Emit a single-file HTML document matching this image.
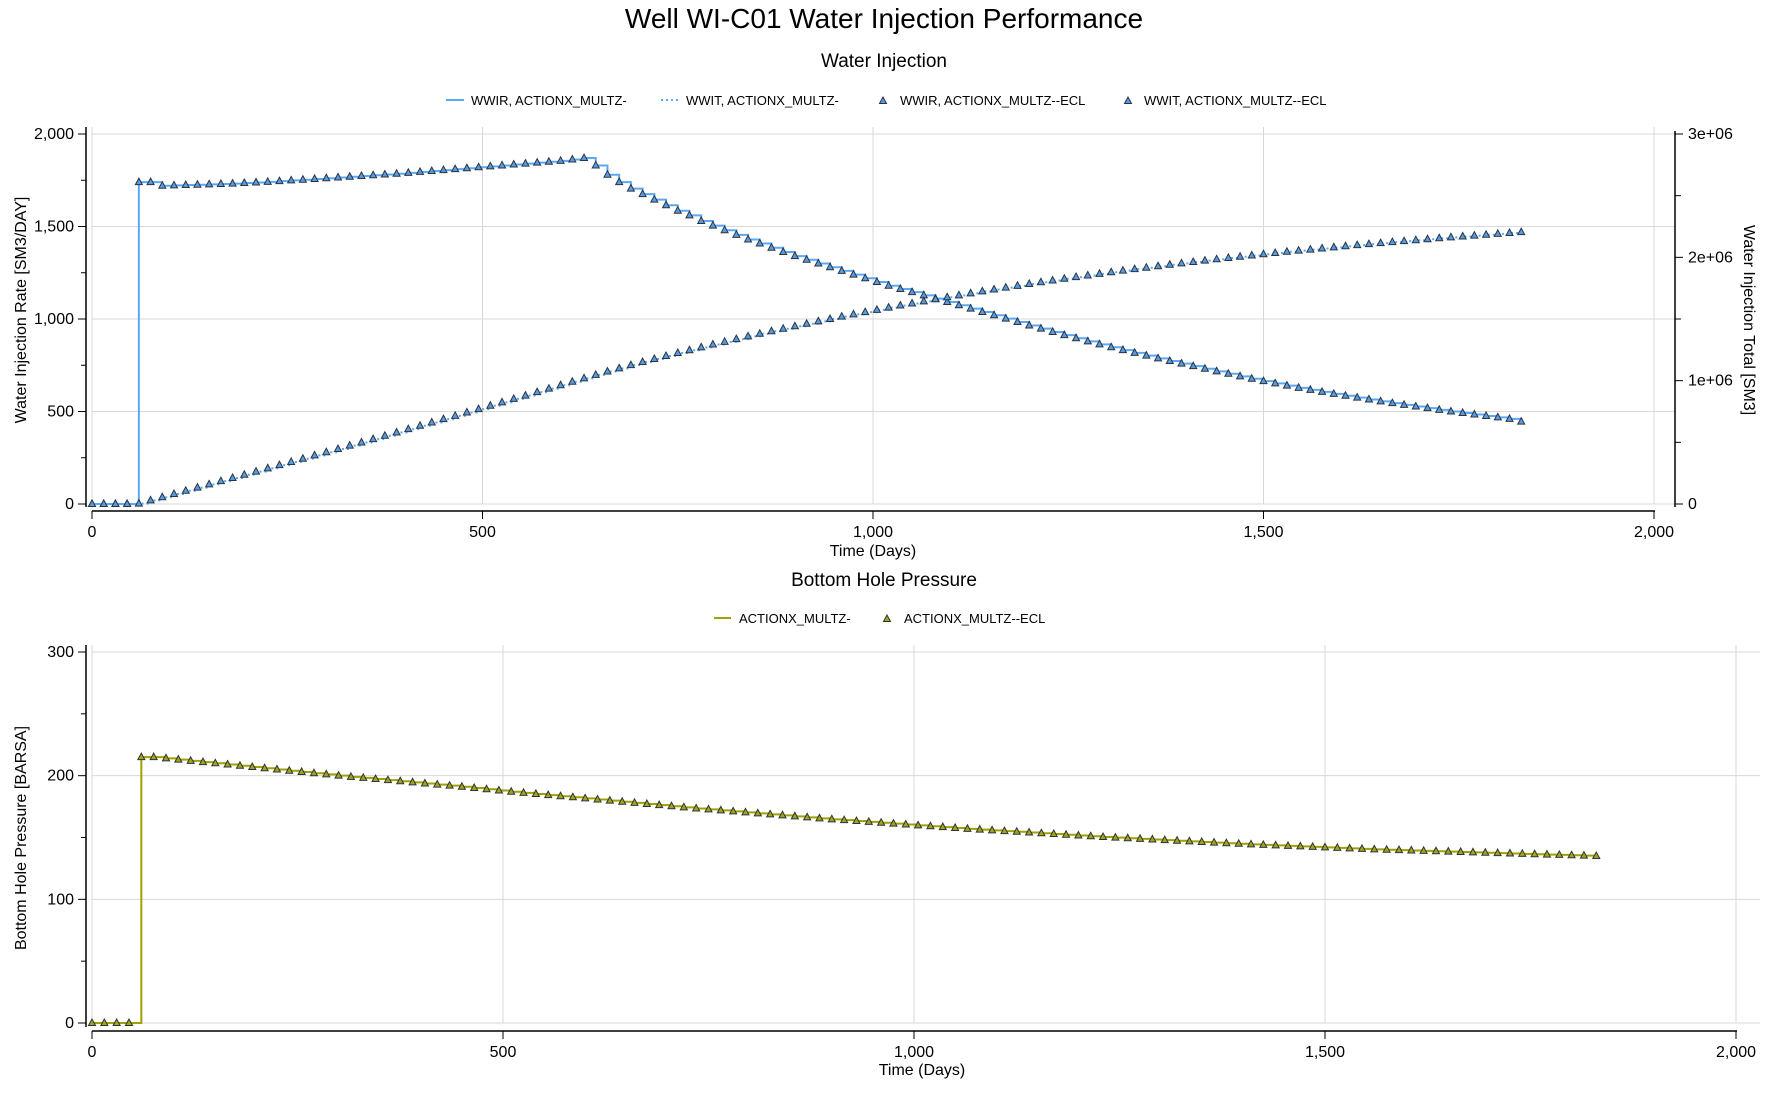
<!DOCTYPE html>
<html><head><meta charset="utf-8"><style>
body{margin:0;background:#fff;}
svg{display:block;font-family:"Liberation Sans","DejaVu Sans",sans-serif;}
</style></head><body>
<svg id="c" width="1788" height="1107" viewBox="0 0 1788 1107">
<text x="884" y="28" font-size="28" text-anchor="middle">Well WI-C01 Water Injection Performance</text>
<text x="884" y="67" font-size="19" text-anchor="middle">Water Injection</text>
<text x="884" y="586" font-size="19" text-anchor="middle">Bottom Hole Pressure</text>
<g id="g"></g>
</svg>
<script>
const days=[];for(let i=0;i<=122;i++)days.push(i*15);
const wwir=[0,0,0,0,1740,1740,1720,1722,1724,1726,1728,1730,1732,1735,1738,1741,1745,1749,1753,1757,1761,1765,1769,1773,1777,1781,1785,1790,1795,1800,1805,1810,1815,1820,1825,1830,1835,1840,1845,1850,1855,1862,1870,1830,1780,1740,1705,1675,1645,1615,1585,1560,1530,1505,1480,1455,1430,1408,1385,1362,1340,1320,1300,1280,1260,1240,1220,1200,1180,1162,1145,1128,1110,1092,1074,1056,1038,1020,1002,984,965,948,930,913,896,879,863,847,832,817,802,787,773,759,745,731,717,704,690,677,664,652,640,628,617,606,595,585,575,565,555,545,536,527,518,509,500,492,484,476,468,460,445];
const wwit=[0,0,0,0,3000,29000,55000,81000,107000,133000,159000,185000,211000,237000,263000,289000,315000,341000,367000,394000,420000,446000,473000,499000,526000,553000,580000,607000,634000,661000,688000,715000,742000,769000,797000,824000,852000,879000,907000,935000,963000,991000,1019000,1047000,1074000,1100000,1126000,1151000,1176000,1200000,1224000,1247000,1270000,1293000,1315000,1337000,1359000,1380000,1401000,1421000,1441000,1461000,1481000,1500000,1519000,1538000,1556000,1574000,1592000,1609000,1626000,1643000,1660000,1676000,1692000,1708000,1724000,1739000,1754000,1769000,1784000,1798000,1812000,1826000,1840000,1853000,1866000,1879000,1892000,1904000,1916000,1928000,1940000,1951000,1962000,1973000,1984000,1995000,2005000,2015000,2025000,2035000,2045000,2054000,2063000,2072000,2081000,2090000,2099000,2107000,2115000,2123000,2131000,2139000,2147000,2155000,2162000,2169000,2176000,2183000,2190000,2197000,2204000];
const bhp=[0,0,0,0,215,215,214,213,212,211,210,209,208,207,206,205,204,203,202,201,200,199,198.2,197.3,196.4,195.5,194.6,193.7,192.8,191.9,191,190,189,188,187,186.1,185.2,184.3,183.4,182.5,181.6,180.7,179.8,178.9,178,177.1,176.2,175.3,174.4,173.5,172.7,171.9,171.1,170.3,169.5,168.7,167.9,167.1,166.3,165.5,164.7,164,163.3,162.6,161.9,161.2,160.5,159.8,159.1,158.4,157.7,157,156.4,155.8,155.2,154.6,154,153.4,152.8,152.2,151.6,151,150.4,149.9,149.4,148.9,148.4,147.9,147.4,146.9,146.4,145.9,145.4,144.9,144.4,144,143.6,143.2,142.8,142.4,142,141.6,141.2,140.8,140.4,140.1,139.8,139.5,139.2,138.9,138.6,138.3,138,137.7,137.4,137.1,136.8,136.5,136.2,135.9,135.6,135.3,135];
const xTicks=[0,500,1000,1500,2000];
const xTickLabels=["0","500","1,000","1,500","2,000"];
const rateTicks=[0,500,1000,1500,2000];
const rateTickLabels=["0","500","1,000","1,500","2,000"];
const totTicks=[0,1000000,2000000,3000000];
const totTickLabels=["0","1e+06","2e+06","3e+06"];
const bhpTicks=[0,100,200,300];
const bhpTickLabels=["0","100","200","300"];

const NS="http://www.w3.org/2000/svg";
const G=document.getElementById('g');
function mk(tag,at,parent){const e=document.createElementNS(NS,tag);for(const k in at)e.setAttribute(k,at[k]);(parent||G).appendChild(e);return e;}
function lin(d0,d1,r0,r1){return v=>r0+(v-d0)/(d1-d0)*(r1-r0);}

const xT=lin(0,2000,92,1654), yR=lin(0,2000,504,134), yT=lin(0,3000000,504,134);
const xB=lin(0,2000,92,1736), yB=lin(0,300,1023,652);

function tri(x,y,fill,name){const p=mk('polygon',{points:`${x},${y-4} ${x-3.5},${y+2.5} ${x+3.5},${y+2.5}`,fill:fill,stroke:'#2a3440','stroke-width':1});

}
function stepPath(xs,ys,fx,fy){let d='';for(let i=0;i<xs.length;i++){const X=fx(xs[i]),Y=fy(ys[i]);if(i==0)d+=`M${X},${Y}`;else{d+=`H${X}V${Y}`;}}return d;}

function txt(x,y,s,size,anchor,name,extra){const t=mk('text',Object.assign({x:x,y:y,'font-size':size,'text-anchor':anchor||'start',fill:'#000'},extra||{}));t.textContent=s;

return t;}

// ---- Top plot grid
xTicks.forEach((v,i)=>{const X=xT(v);const l=mk('line',{x1:X,y1:127,x2:X,y2:504,stroke:'#d8d8d8'});


mk('line',{x1:X,y1:511,x2:X,y2:519,stroke:'#000'});
txt(X,537,xTickLabels[i],16,'middle','top-x-tick-label');});
rateTicks.forEach((v,i)=>{const Y=yR(v);const l=mk('line',{x1:92,y1:Y,x2:1675,y2:Y,stroke:'#d8d8d8'});


mk('line',{x1:78,y1:Y,x2:86,y2:Y,stroke:'#000'});
txt(74,Y+5,rateTickLabels[i],16,'end','rate-tick-label');});
for(let v=250;v<2000;v+=500){const Y=yR(v);mk('line',{x1:81,y1:Y,x2:86,y2:Y,stroke:'#000'});}
totTicks.forEach((v,i)=>{const Y=yT(v);mk('line',{x1:1675,y1:Y,x2:1683,y2:Y,stroke:'#000'});
txt(1688,Y+5,totTickLabels[i],16,'start','total-tick-label');});
for(let v=500000;v<3000000;v+=1000000){const Y=yT(v);mk('line',{x1:1675,y1:Y,x2:1681,y2:Y,stroke:'#000'});}
mk('line',{x1:86,y1:127,x2:86,y2:507,stroke:'#000','stroke-width':1.5});
mk('line',{x1:92,y1:511,x2:1655,y2:511,stroke:'#000','stroke-width':1.5});
mk('line',{x1:1675,y1:131,x2:1675,y2:507,stroke:'#000','stroke-width':1.5});
txt(873,556,'Time (Days)',16,'middle','top-x-axis-title');
txt(0,0,'Water Injection Rate [SM3/DAY]',16,'middle','rate-axis-title',{transform:'translate(26,310) rotate(-90)'});
txt(0,0,'Water Injection Total [SM3]',16,'middle','total-axis-title',{transform:'translate(1744,320) rotate(90)'});

// series top
const p1=mk('path',{d:stepPath(days,wwir,xT,yR),fill:'none',stroke:'#5aa9f5','stroke-width':2});


const p2=mk('path',{d:stepPath(days,wwit,xT,yT),fill:'none',stroke:'#5aa9f5','stroke-width':2,'stroke-dasharray':'2,3'});


days.forEach((d,i)=>{tri(xT(d),yR(wwir[i]),'#5a9be0','wwir-ecl-marker');tri(xT(d),yT(wwit[i]),'#5a9be0','wwit-ecl-marker');});

// legend top
mk('line',{x1:446,y1:100,x2:464,y2:100,stroke:'#5aa9f5','stroke-width':2});
txt(471,105,'WWIR, ACTIONX_MULTZ-',13,'start','legend-wwir');
mk('line',{x1:661,y1:100,x2:678,y2:100,stroke:'#5aa9f5','stroke-width':2,'stroke-dasharray':'2,3'});
txt(686,105,'WWIT, ACTIONX_MULTZ-',13,'start','legend-wwit');
tri(883,101,'#5a9be0','legend-wwir-ecl-marker');
txt(900,105,'WWIR, ACTIONX_MULTZ--ECL',13,'start','legend-wwir-ecl');
tri(1128,101,'#5a9be0','legend-wwit-ecl-marker');
txt(1144,105,'WWIT, ACTIONX_MULTZ--ECL',13,'start','legend-wwit-ecl');

// ---- Bottom plot
xTicks.forEach((v,i)=>{const X=xB(v);const l=mk('line',{x1:X,y1:645,x2:X,y2:1023,stroke:'#d8d8d8'});


mk('line',{x1:X,y1:1031,x2:X,y2:1039,stroke:'#000'});
txt(X,1057,xTickLabels[i],16,'middle','bottom-x-tick-label');});
bhpTicks.forEach((v,i)=>{const Y=yB(v);const l=mk('line',{x1:92,y1:Y,x2:1760,y2:Y,stroke:'#d8d8d8'});


mk('line',{x1:78,y1:Y,x2:86,y2:Y,stroke:'#000'});
txt(74,Y+5,bhpTickLabels[i],16,'end','bhp-tick-label');});
for(let v=50;v<300;v+=100){const Y=yB(v);mk('line',{x1:81,y1:Y,x2:86,y2:Y,stroke:'#000'});}
mk('line',{x1:86,y1:645,x2:86,y2:1027,stroke:'#000','stroke-width':1.5});
mk('line',{x1:92,y1:1031,x2:1737,y2:1031,stroke:'#000','stroke-width':1.5});
txt(922,1075,'Time (Days)',16,'middle','bottom-x-axis-title');
txt(0,0,'Bottom Hole Pressure [BARSA]',16,'middle','bhp-axis-title',{transform:'translate(26,838) rotate(-90)'});
const p3=mk('path',{d:stepPath(days,bhp,xB,yB),fill:'none',stroke:'#a0a000','stroke-width':2});


days.forEach((d,i)=>tri(xB(d),yB(bhp[i]),'#a5a510','bhp-ecl-marker'));
mk('line',{x1:714,y1:618,x2:731,y2:618,stroke:'#a0a000','stroke-width':2});
txt(739,623,'ACTIONX_MULTZ-',13,'start','legend-bhp');
tri(887,619,'#a5a510','legend-bhp-ecl-marker');
txt(904,623,'ACTIONX_MULTZ--ECL',13,'start','legend-bhp-ecl');
</script>
</body></html>
